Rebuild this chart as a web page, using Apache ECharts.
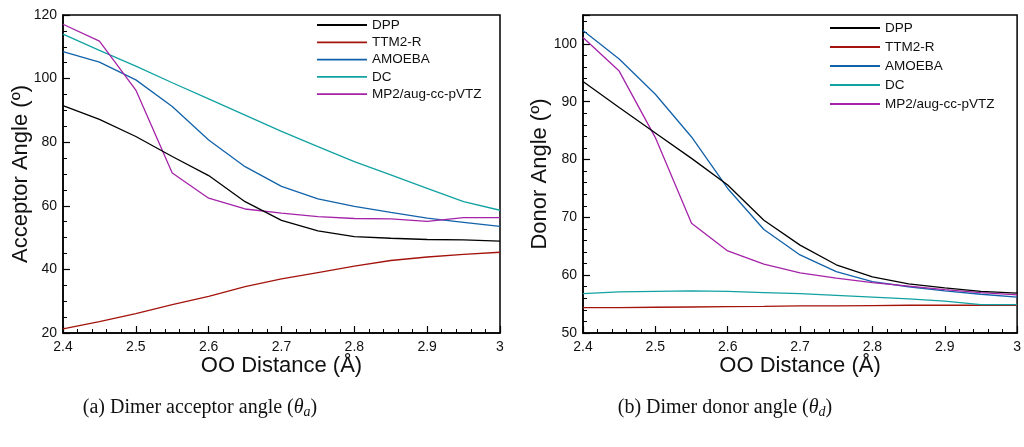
<!DOCTYPE html>
<html lang="en">
<head>
	<meta charset="UTF-8">
	<title>Dimer angles</title>
	<style>
		html, body { margin: 0; padding: 0; background: #fff; }
	</style>
</head>
<body>
	<div id="main" style="width: 1024px;height:447px;"></div>
</body>
</html>

<script src='https://cdn.jsdelivr.net/npm/echarts@6/dist/echarts.min.js'></script>
<script>

		// OO distance (Å)
		var distances = [2.4, 2.45, 2.5, 2.55, 2.6, 2.65, 2.7, 2.75, 2.8, 2.85, 2.9, 2.95, 3.0];
		var names = ['DPP', 'TTM2-R', 'AMOEBA', 'DC', 'MP2/aug-cc-pVTZ'];
		var colors = ['#000000', '#a3140c', '#1262aa', '#12a2a2', '#a523a8'];

		// (a) acceptor angle
		var accDPP    = [91.5, 87.2, 81.8, 75.5, 69.5, 61.3, 55.4, 52.1, 50.3, 49.8, 49.4, 49.3, 48.9];
		var accTTM2R  = [21.3, 23.6, 26.1, 28.9, 31.5, 34.6, 37.0, 39.0, 41.0, 42.8, 43.9, 44.7, 45.4];
		var accAMOEBA = [108.5, 105.2, 99.6, 91.2, 80.7, 72.3, 66.1, 62.2, 59.8, 57.9, 56.1, 54.8, 53.5];
		var accDC     = [114.0, 108.9, 103.9, 98.7, 93.6, 88.5, 83.4, 78.6, 73.9, 69.7, 65.5, 61.3, 58.6];
		var accMP2    = [117.1, 111.8, 96.4, 70.3, 62.4, 59.0, 57.7, 56.6, 56.0, 55.9, 55.1, 56.3, 56.3];

		// (b) donor angle
		var donDPP    = [93.5, 89.0, 84.6, 80.2, 75.6, 69.5, 65.2, 61.8, 59.7, 58.5, 57.8, 57.2, 56.9];
		var donTTM2R  = [54.4, 54.4, 54.45, 54.5, 54.55, 54.6, 54.7, 54.7, 54.75, 54.8, 54.8, 54.8, 54.8];
		var donAMOEBA = [102.3, 97.4, 91.3, 83.9, 75.0, 67.9, 63.5, 60.6, 58.9, 58.0, 57.3, 56.7, 56.2];
		var donDC     = [56.8, 57.1, 57.2, 57.3, 57.2, 57.0, 56.8, 56.5, 56.2, 55.9, 55.5, 54.9, 54.9];
		var donMP2    = [101.1, 95.3, 83.8, 69.0, 64.2, 61.9, 60.4, 59.5, 58.7, 58.1, 57.5, 57.0, 56.6];

		var accData = [accDPP, accTTM2R, accAMOEBA, accDC, accMP2];
		var donData = [donDPP, donTTM2R, donAMOEBA, donDC, donMP2];

		var font = 'Liberation Sans';
		// plain line legend icon (the two move-tos keep the box 50x14)
		var lineIcon = 'path://M0,0 M50,14 M0,6.1 L50,6.1 L50,7.9 L0,7.9 Z';

		function pairs(vals) {
			return distances.map(function (x, i) { return [x, vals[i]]; });
		}

		function makeSeries(dataSets, idx) {
			return dataSets.map(function (vals, i) {
				return {
					name: names[i],
					type: 'line',
					xAxisIndex: idx,
					yAxisIndex: idx,
					data: pairs(vals),
					showSymbol: false,
					symbol: 'none',
					smooth: false,
					lineStyle: { width: 1.3, color: colors[i] },
					itemStyle: { color: colors[i] },
					z: i == 0 ? 3 : 2
				};
			});
		}

		function xAxis(idx) {
			return {
				type: 'value',
				gridIndex: idx,
				min: 2.4,
				max: 3.0,
				interval: 0.1,
				name: 'OO Distance (Å)',
				nameLocation: 'middle',
				nameGap: 22,
				nameMoveOverlap: false,
				nameTextStyle: { fontFamily: font, fontSize: 22, color: '#111' },
				axisLine: { show: true, lineStyle: { color: '#000', width: 1.5 } },
				axisTick: { show: true, inside: true, length: 7, lineStyle: { color: '#000', width: 1.2 } },
				minorTick: { show: true, splitNumber: 5, length: 4, lineStyle: { color: '#000', width: 1 } },
				splitLine: { show: false },
				axisLabel: {
					fontFamily: font, fontSize: 14, color: '#111', margin: 7,
					formatter: function (v) { return String(Math.round(v * 10) / 10); }
				}
			};
		}

		function yAxis(idx, title, min, max, interval, minorSplit, gap) {
			return {
				type: 'value',
				gridIndex: idx,
				min: min,
				max: max,
				interval: interval,
				name: title,
				nameLocation: 'middle',
				nameGap: gap,
				nameMoveOverlap: false,
				nameTextStyle: { fontFamily: font, fontSize: 22, color: '#111' },
				axisLine: { show: true, lineStyle: { color: '#000', width: 1.5 } },
				axisTick: { show: true, inside: true, length: 7, lineStyle: { color: '#000', width: 1.2 } },
				minorTick: { show: true, splitNumber: minorSplit, length: 4, lineStyle: { color: '#000', width: 1 } },
				splitLine: { show: false },
				axisLabel: {
					fontFamily: font, fontSize: 14, color: '#111', margin: 6,
					showMaxLabel: max % interval === 0
				}
			};
		}

		function legend(left, top, gap) {
			return {
				orient: 'vertical',
				left: left,
				top: top,
				padding: 0,
				icon: lineIcon,
				itemWidth: 50,
				itemHeight: 14,
				itemGap: gap,
				data: names,
				textStyle: { fontFamily: font, fontSize: 13.5, color: '#111' }
			};
		}

		var captionRich = {
			i: { fontFamily: 'Liberation Serif', fontStyle: 'italic', fontSize: 20, color: '#111' },
			s: { fontFamily: 'Liberation Serif', fontStyle: 'italic', fontSize: 14, color: '#111', verticalAlign: 'bottom', padding: [8, 0, 0, 0] }
		};

		var myChart = echarts.init(document.getElementById('main'));

		var option = {
			animation: false,
			backgroundColor: '#fff',
			title: [
				{
					text: '(a) Dimer acceptor angle ({i|θ}{s|a})',
					left: 195, top: 392, textAlign: 'center',
					textStyle: { fontFamily: 'Liberation Serif', fontSize: 20, fontWeight: 'normal', color: '#111', rich: captionRich }
				},
				{
					text: '(b) Dimer donor angle ({i|θ}{s|d})',
					left: 720, top: 392, textAlign: 'center',
					textStyle: { fontFamily: 'Liberation Serif', fontSize: 20, fontWeight: 'normal', color: '#111', rich: captionRich }
				}
			],
			legend: [
				legend(317, 18, 3.3),
				legend(830, 21, 5)
			],
			grid: [
				{ left: 63, top: 15, width: 437, height: 318, show: true, borderColor: '#000', borderWidth: 1.5, containLabel: false },
				{ left: 583, top: 15, width: 438, height: 318, show: true, borderColor: '#000', borderWidth: 1.5, containLabel: false }
			],
			xAxis: [xAxis(0), xAxis(1)],
			yAxis: [
				yAxis(0, 'Acceptor Angle (º)', 20, 120, 20, 4, 31),
				yAxis(1, 'Donor Angle (º)', 50, 105, 10, 5, 32)
			],
			series: makeSeries(accData, 0).concat(makeSeries(donData, 1))
		};

		myChart.setOption(option);

	</script>
